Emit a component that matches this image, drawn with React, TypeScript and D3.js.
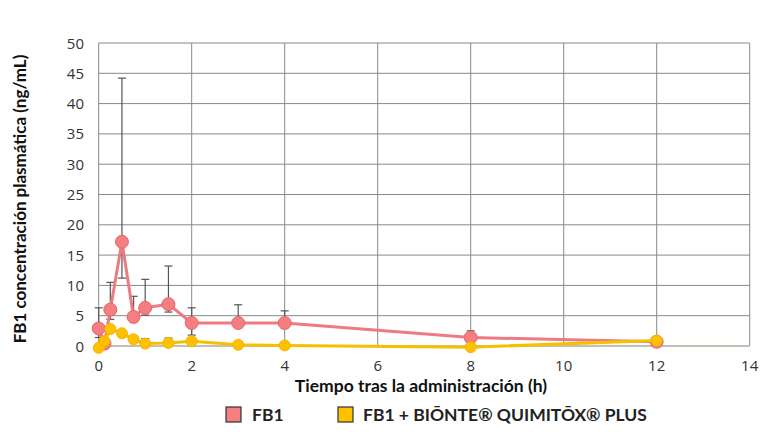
import React from "react";
import * as d3 from "d3";

const times = [0, 0.125, 0.25, 0.5, 0.75, 1, 1.5, 2, 3, 4, 8, 12];
const fb1 = [2.9, 0.4, 6.0, 17.2, 4.8, 6.3, 6.9, 3.8, 3.8, 3.8, 1.4, 0.7];
const fb1Upper = [6.3, null, 10.5, 44.2, 8.2, 11.0, 13.2, 6.3, 6.8, 5.8, 2.5, null];
const fb1Lower = [1.4, null, 4.4, 11.2, 4.0, 5.1, 5.6, 1.8, 3.4, 3.0, 1.2, null];
const biotox = [-0.3, 0.8, 2.8, 2.1, 1.1, 0.4, 0.5, 0.8, 0.2, 0.1, -0.2, 0.9];
const biotoxUpper = [null, 1.2, 3.1, 2.5, 1.5, 1.2, 1.3, 1.3, 0.4, 0.3, null, null];
const xTicks = [0, 2, 4, 6, 8, 10, 12, 14];
const yTicks = [0, 5, 10, 15, 20, 25, 30, 35, 40, 45, 50];
const seriesNames = ["FB1", "FB1 + BIŌNTE® QUIMITŌX® PLUS"];

const W = 768;
const H = 432;

export default function App() {
  const x = d3.scaleLinear().domain([0, 14]).range([98.7, 749.7]);
  const y = d3.scaleLinear().domain([0, 50]).range([346, 43]);
  const line = d3
    .line<[number, number]>()
    .x((d) => x(d[0]))
    .y((d) => y(d[1]));
  const redPts = times.map((t, i) => [t, fb1[i]] as [number, number]);
  const yelPts = times.map((t, i) => [t, biotox[i]] as [number, number]);
  const red = "#F47E80";
  const redStroke = "#E3676C";
  const redLine = "#EE7B82";
  const yel = "#FFC000";
  const yelLine = "#F5C000";
  const tickFont = "'Open Sans', sans-serif";
  const titleFont = "'Lato', 'Open Sans', sans-serif";
  const cap = 4;

  const errBar = (t: number, lo: number, hi: number, key: string) => (
    <g key={key} stroke="#555" strokeWidth={1.2}>
      <line x1={x(t)} x2={x(t)} y1={y(lo)} y2={y(hi)} />
      <line x1={x(t) - cap} x2={x(t) + cap} y1={y(hi)} y2={y(hi)} />
      <line x1={x(t) - cap} x2={x(t) + cap} y1={y(lo)} y2={y(lo)} />
    </g>
  );

  return (
    <svg
      width={W}
      height={H}
      style={{ position: "absolute", left: 0, top: 0, background: "#fff" }}
    >
      {/* grid */}
      {yTicks.map((v) =>
        v === 0 ? null : (
          <line key={"gy" + v} x1={x(0)} x2={x(14)} y1={y(v)} y2={y(v)} stroke="#888" strokeWidth={1} />
        )
      )}
      {xTicks.map((v) => (
        <line key={"gx" + v} x1={x(v)} x2={x(v)} y1={y(0)} y2={y(50)} stroke="#888" strokeWidth={1} />
      ))}
      <line x1={x(0)} x2={x(14)} y1={y(0)} y2={y(0)} stroke="#c4c0b4" strokeWidth={2} />

      {/* tick labels */}
      {yTicks.map((v) => (
        <text key={"ty" + v} x={84} y={y(v) + 5.5} textAnchor="end" fontFamily={tickFont} fontSize={15} fill="#333">
          {v}
        </text>
      ))}
      {xTicks.map((v) => (
        <text key={"tx" + v} x={x(v)} y={371} textAnchor="middle" fontFamily={tickFont} fontSize={15} fill="#333">
          {v}
        </text>
      ))}

      {/* axis titles */}
      <text x={421} y={392} textAnchor="middle" fontFamily={titleFont} fontWeight="bold" fontSize={17.5} fill="#111">
        Tiempo tras la administración (h)
      </text>
      <text
        transform={`translate(26, 199) rotate(-90)`}
        textAnchor="middle"
        fontFamily={titleFont}
        fontWeight="bold"
        fontSize={17}
        fill="#111"
      >
        FB1 concentración plasmática (ng/mL)
      </text>

      {/* error bars */}
      {times.map((t, i) =>
        fb1Upper[i] != null ? errBar(t, fb1Lower[i] as number, fb1Upper[i] as number, "er" + i) : null
      )}
      {times.map((t, i) =>
        biotoxUpper[i] != null ? errBar(t, biotox[i], biotoxUpper[i] as number, "ey" + i) : null
      )}

      {/* FB1 series */}
      <path d={line(redPts) ?? ""} fill="none" stroke={redLine} strokeWidth={3} strokeLinejoin="round" />
      {redPts.map((p, i) => (
        <circle key={"rc" + i} cx={x(p[0])} cy={y(p[1])} r={6.5} fill={red} stroke={redStroke} strokeWidth={1} />
      ))}

      {/* FB1 + Bionte series */}
      <path d={line(yelPts) ?? ""} fill="none" stroke={yelLine} strokeWidth={3} strokeLinejoin="round" />
      {yelPts.map((p, i) => (
        <circle key={"yc" + i} cx={x(p[0])} cy={y(p[1])} r={5.5} fill={yel} stroke="#F2B600" strokeWidth={1} />
      ))}

      {/* legend */}
      <rect x={226} y={407} width={15} height={15} fill={red} stroke="#333" strokeWidth={1.2} />
      <text x={252} y={421} fontFamily={titleFont} fontWeight="bold" fontSize={17.5} fill="#222">
        {seriesNames[0]}
      </text>
      <rect x={338} y={407} width={15} height={15} fill={yel} stroke="#333" strokeWidth={1.2} />
      <text x={363} y={421} fontFamily={titleFont} fontWeight="bold" fontSize={17.5} fill="#222">
        {seriesNames[1]}
      </text>
    </svg>
  );
}
